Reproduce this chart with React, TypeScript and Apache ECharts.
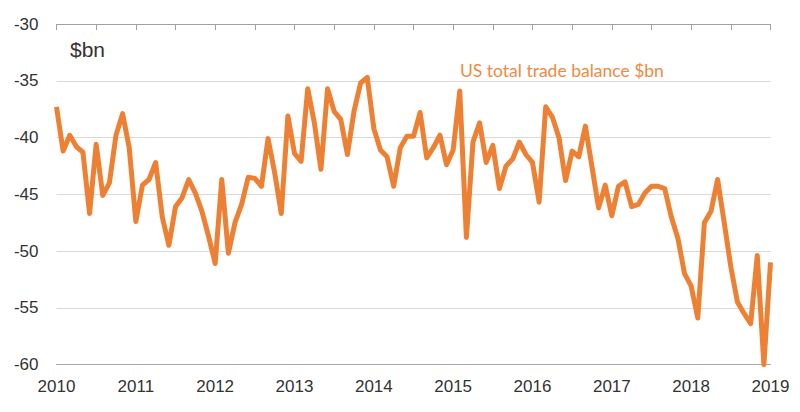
import * as echarts from 'echarts';
import { useEffect, useRef } from 'react';

// monthly, Jan 2010 .. Jan 2019
const startYear = 2010;
const balance = [
    -37.3, -41.2, -39.8, -40.8, -41.3, -46.7, -40.6, -45.1, -44.0, -39.8, -37.9, -40.9,
    -47.4, -44.2, -43.7, -42.2, -47.0, -49.5, -46.1, -45.3, -43.7, -44.9, -46.5, -48.7,
    -51.1, -43.7, -50.2, -47.5, -45.9, -43.5, -43.6, -44.3, -40.1, -43.1, -46.7, -38.1,
    -41.4, -42.1, -35.7, -38.7, -42.8, -35.7, -37.7, -38.4, -41.5, -37.7, -35.2, -34.7,
    -39.2, -41.1, -41.7, -44.3, -40.9, -39.9, -39.9, -37.8, -41.8, -40.9, -39.8, -42.4,
    -41.1, -35.9, -48.8, -40.4, -38.7, -42.2, -40.7, -44.5, -42.5, -41.9, -40.4, -41.5,
    -42.2, -45.7, -37.3, -38.2, -40.0, -43.8, -41.2, -41.7, -39.0, -42.6, -46.2, -44.2,
    -46.9, -44.3, -43.9, -46.1, -45.9, -44.9, -44.3, -44.3, -44.5, -47.0, -48.9, -52.0,
    -53.1, -55.9, -47.5, -46.5, -43.7, -47.5, -51.4, -54.5, -55.5, -56.4, -50.4, -60.0,
    -51.0,
];
const months = balance.map((_, i) => `${startYear + Math.floor(i / 12)}-${String((i % 12) + 1).padStart(2, '0')}`);
const yTicks = { min: -60, max: -30, interval: 5 };

const axisFont = 'Liberation Sans';

const App = () => {
    const chartRef = useRef<HTMLDivElement>(null);

    useEffect(() => {
        if (!chartRef.current) return;
        const chart = echarts.init(chartRef.current, null, { renderer: 'svg' });

        chart.setOption({
            animation: false,
            grid: { left: 56.5, right: 29.5, top: 24, bottom: 47.5 },
            graphic: [
                {
                    type: 'text', left: 70, top: 39,
                    style: { text: '$bn', fontSize: 21, fontFamily: axisFont, fill: '#333' },
                },
                {
                    type: 'text', left: 460, top: 61,
                    style: { text: 'US total trade balance $bn', fontSize: 17.5, fontFamily: 'Lato', fill: '#F08A45' },
                },
            ],
            xAxis: [
                {
                    type: 'category', data: months, boundaryGap: false, position: 'bottom',
                    axisLine: { show: true, lineStyle: { color: '#a6a6a6', width: 1 } },
                    axisTick: { show: false },
                    axisLabel: {
                        interval: 11, margin: 13, fontSize: 17, fontFamily: axisFont, color: '#333',
                        formatter: (v: string) => v.slice(0, 4),
                    },
                    splitLine: { show: false },
                },
                {
                    type: 'category', data: months, boundaryGap: false, position: 'top',
                    axisLine: { show: true, lineStyle: { color: '#a0a0a0', width: 1 } },
                    axisTick: { show: true, inside: true, interval: 5, length: 6, lineStyle: { color: '#a0a0a0' } },
                    axisLabel: { show: false },
                    splitLine: { show: false },
                },
            ],
            yAxis: {
                type: 'value', ...yTicks,
                axisLine: { show: false }, axisTick: { show: false },
                axisLabel: { margin: 18, fontSize: 17, fontFamily: axisFont, color: '#333' },
                splitLine: { show: true, lineStyle: { color: '#d9d9d9', width: 1 } },
            },
            series: [
                {
                    name: 'US total trade balance $bn', type: 'line', data: balance, xAxisIndex: 0,
                    showSymbol: false, symbol: 'none',
                    lineStyle: { color: '#EE8034', width: 5, join: 'round' },
                },
            ],
        });

        return () => chart.dispose();
    }, []);

    return <div ref={chartRef} style={{ width: 800, height: 412, margin: -8 }} />;
};

export default App;
